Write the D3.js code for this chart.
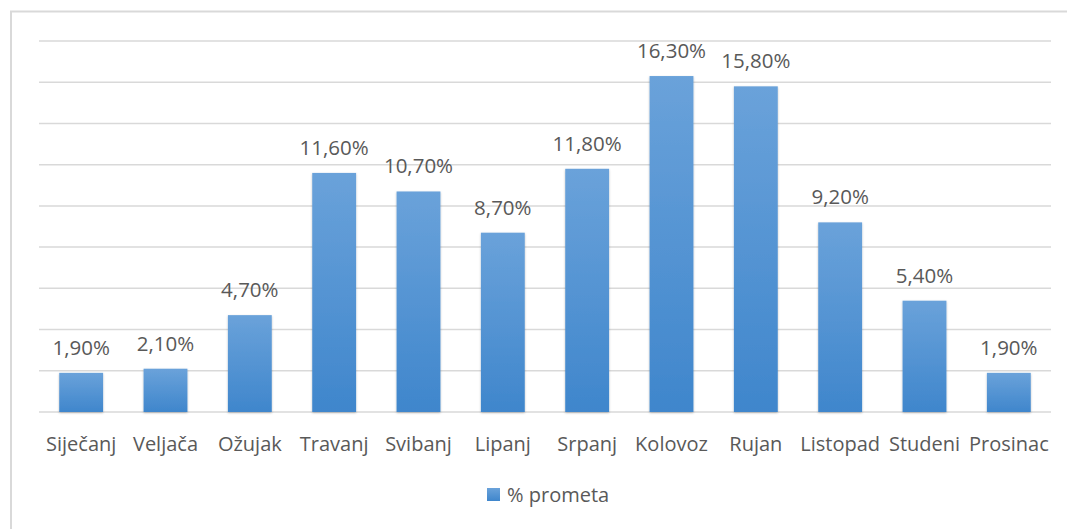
<!DOCTYPE html>
<html>
<head>
<meta charset="utf-8">
<style>
  body { margin: 0; padding: 0; overflow: hidden; background: #fff; }
  text { font-family: "Open Sans", "DejaVu Sans", sans-serif; fill: #595959; }
</style>
</head>
<body>
<div id="chart"></div>
<script src="https://d3js.org/d3.v7.min.js"></script>
<script>
var months = ["Siječanj", "Veljača", "Ožujak", "Travanj", "Svibanj", "Lipanj",
              "Srpanj", "Kolovoz", "Rujan", "Listopad", "Studeni", "Prosinac"];
var values = [1.9, 2.1, 4.7, 11.6, 10.7, 8.7, 11.8, 16.3, 15.8, 9.2, 5.4, 1.9];
var gridTicks = [0, 2, 4, 6, 8, 10, 12, 14, 16, 18];
var seriesName = "% prometa";

var width = 1067, height = 529;
var plotLeft = 39, plotRight = 1051, plotTop = 41, plotBottom = 412;
var fontSize = "20px";

var svg = d3.select("#chart").append("svg")
    .attr("width", width)
    .attr("height", height);

// outer frame
svg.append("rect")
    .attr("x", 11).attr("y", 11.5)
    .attr("width", width + 20).attr("height", height + 20)
    .attr("fill", "none")
    .attr("stroke", "#d9d9d9")
    .attr("stroke-width", 2);

var defs = svg.append("defs");
var grad = defs.append("linearGradient")
    .attr("id", "barGrad")
    .attr("x1", 0).attr("y1", 0).attr("x2", 0).attr("y2", 1);
grad.append("stop").attr("offset", "0%").attr("stop-color", "#6aa2da");
grad.append("stop").attr("offset", "100%").attr("stop-color", "#3f86cc");

var shadow = defs.append("filter").attr("id", "shadow")
    .attr("x", "-20%").attr("y", "-10%").attr("width", "140%").attr("height", "130%");
shadow.append("feDropShadow")
    .attr("dx", 0).attr("dy", 1).attr("stdDeviation", 1.2)
    .attr("flood-color", "#000").attr("flood-opacity", 0.25);

var x = d3.scaleBand()
    .domain(months)
    .range([plotLeft, plotRight])
    .paddingInner(0.48)
    .paddingOuter(0.24);

var y = d3.scaleLinear()
    .domain([0, 18])
    .range([plotBottom, plotTop]);

// gridlines
svg.append("g")
    .selectAll("line")
    .data(gridTicks)
    .enter().append("line")
    .attr("x1", plotLeft).attr("x2", plotRight)
    .attr("y1", d => y(d)).attr("y2", d => y(d))
    .attr("stroke", "#d9d9d9")
    .attr("stroke-width", 1.5);

// bars
svg.append("g")
    .selectAll("rect")
    .data(values)
    .enter().append("rect")
    .attr("x", (d, i) => x(months[i]))
    .attr("y", d => y(d))
    .attr("width", x.bandwidth())
    .attr("height", d => y(0) - y(d))
    .attr("fill", "url(#barGrad)")
    .attr("filter", "url(#shadow)");

// value labels
svg.append("g")
    .selectAll("text")
    .data(values)
    .enter().append("text")
    .attr("x", (d, i) => x(months[i]) + x.bandwidth() / 2)
    .attr("y", d => y(d) - 18)
    .attr("text-anchor", "middle")
    .style("font-size", "20.5px")
    .text(d => d.toFixed(2).replace(".", ",") + "%");

// category axis labels
svg.append("g")
    .selectAll("text")
    .data(months)
    .enter().append("text")
    .attr("x", d => x(d) + x.bandwidth() / 2)
    .attr("y", 451)
    .attr("text-anchor", "middle")
    .style("font-size", fontSize)
    .text(d => d);

// legend
var legend = svg.append("g").attr("transform", "translate(487,488)");
legend.append("rect")
    .attr("width", 13).attr("height", 13)
    .attr("fill", "url(#barGrad)");
legend.append("text")
    .attr("x", 20).attr("y", 14)
    .style("font-size", fontSize)
    .text(seriesName);
</script>
</body>
</html>
